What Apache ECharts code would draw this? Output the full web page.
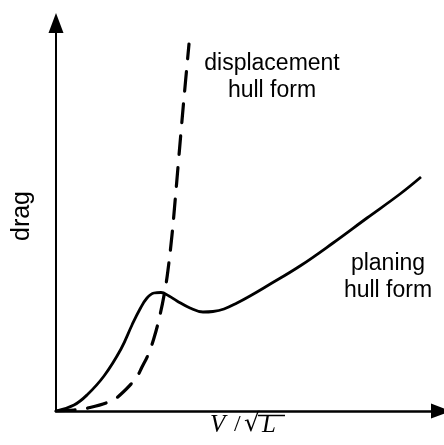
<!DOCTYPE html>
<html>
<head>
<meta charset="utf-8">
<script src="https://cdn.jsdelivr.net/npm/echarts@6.0.0/dist/echarts.min.js"></script>
<style>
  html, body { margin: 0; padding: 0; background: #fff; }
  #chart { width: 444px; height: 445px; }
</style>
</head>
<body>
<div id="chart"></div>
<script>
// speed V/sqrt(L) (horizontal) and drag (vertical)
const planingV = [0, 18, 31, 48, 65, 76, 84, 91, 98, 105, 113, 121, 134, 147, 157, 168, 181, 194, 211, 244, 277, 311, 344, 365];
const planingDrag = [0, 6, 16, 35, 62, 86, 102, 113, 118, 118.5, 115, 110, 103, 99, 99.5, 102, 108, 115, 125, 145, 168, 193, 217, 234];

const displacementV = [0, 18, 34, 55, 64, 80, 86, 92, 98, 104, 109, 112, 116, 119, 122, 125, 128, 133];
const displacementDrag = [0, 1, 3.5, 10, 16, 33, 44, 56, 73, 96, 121, 141, 176, 209, 244, 279, 313, 367];

const vMax = 385;
const dragMax = 388;

const labelFont = '"Liberation Sans", Arial, sans-serif';
const mathFont = '"Liberation Serif", "Times New Roman", serif';

const zip = (xs, ys) => xs.map((x, i) => [x, ys[i]]);

const chart = echarts.init(document.getElementById('chart'));

chart.setOption({
    animation: false,
    backgroundColor: '#fff',
    grid: { left: 56, right: 3, top: 23, bottom: 34 },
    xAxis: {
        type: 'value',
        min: 0,
        max: vMax,
        axisLine: {
            show: true,
            symbol: ['none', 'triangle'],
            symbolSize: [15, 20],
            lineStyle: { color: '#000', width: 2.5 }
        },
        axisTick: { show: false },
        axisLabel: { show: false },
        splitLine: { show: false }
    },
    yAxis: {
        type: 'value',
        min: 0,
        max: dragMax,
        axisLine: {
            show: true,
            symbol: ['none', 'triangle'],
            symbolSize: [15, 20],
            lineStyle: { color: '#000', width: 2 }
        },
        axisTick: { show: false },
        axisLabel: { show: false },
        splitLine: { show: false }
    },
    series: [
        {
            name: 'planing hull form',
            type: 'line',
            data: zip(planingV, planingDrag),
            showSymbol: false,
            smooth: 0.4,
            lineStyle: { color: '#000', width: 2.8 },
            silent: true
        },
        {
            name: 'displacement hull form',
            type: 'line',
            data: zip(displacementV, displacementDrag),
            showSymbol: false,
            smooth: 0.4,
            lineStyle: { color: '#000', width: 3.2, type: [19, 13], cap: 'round' },
            silent: true
        }
    ],
    graphic: [
        {
            type: 'text', x: 272, y: 77.5,
            style: {
                text: 'displacement\nhull form', font: '23px ' + labelFont, fill: '#000',
                align: 'center', verticalAlign: 'middle', lineHeight: 27
            }
        },
        {
            type: 'text', x: 388, y: 277.5,
            style: {
                text: 'planing\nhull form', font: '23px ' + labelFont, fill: '#000',
                align: 'center', verticalAlign: 'middle', lineHeight: 27
            }
        },
        {
            type: 'text', x: 22, y: 216, rotation: Math.PI / 2,
            style: {
                text: 'drag', font: '25px ' + labelFont, fill: '#000',
                align: 'center', verticalAlign: 'middle'
            }
        },
        // V / sqrt(L)
        { type: 'text', left: 210, top: 413, style: { text: 'V', font: 'italic 25px ' + mathFont, fill: '#000' } },
        { type: 'text', left: 234, top: 413, style: { text: '/', font: '24px ' + mathFont, fill: '#000' } },
        { type: 'text', left: 244, top: 412, style: { text: '\u221A', font: '25px "DejaVu Serif", ' + mathFont, fill: '#000' } },
        { type: 'line', shape: { x1: 258, y1: 415.5, x2: 285, y2: 415.5 }, style: { stroke: '#000', lineWidth: 1.5 } },
        { type: 'text', left: 262, top: 413, style: { text: 'L', font: 'italic 25px ' + mathFont, fill: '#000' } }
    ]
});
</script>
</body>
</html>
